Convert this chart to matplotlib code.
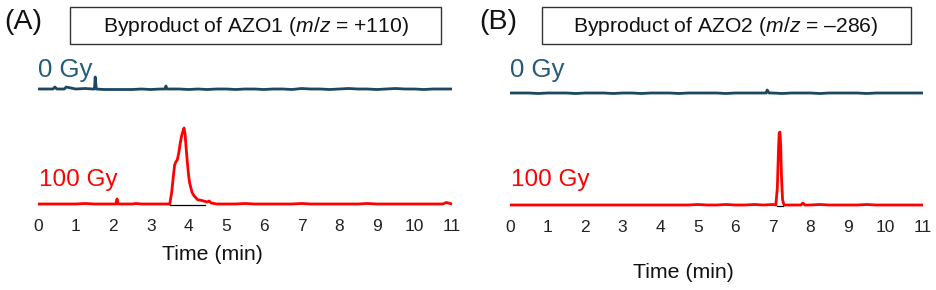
import matplotlib
matplotlib.use('Agg')
import matplotlib.pyplot as plt
from matplotlib.patches import Rectangle

plt.rcParams['font.family'] = ['Liberation Sans', 'DejaVu Sans']
plt.rcParams['mathtext.fontset'] = 'custom'
plt.rcParams['mathtext.it'] = 'Liberation Sans:italic'
plt.rcParams['mathtext.rm'] = 'Liberation Sans'

# ---- data (time in min, intensity in arbitrary units) ----
xticks = [0, 1, 2, 3, 4, 5, 6, 7, 8, 9, 10, 11]
titles = ['Byproduct of AZO1 ($m/z$ = +110)', 'Byproduct of AZO2 ($m/z$ = \u2013286)']
panel_tags = ['(A)', '(B)']
dose_labels = ['0 Gy', '100 Gy']

# (A) 0 Gy
a0_t = [0, 0.25, 0.4, 0.45, 0.5, 0.7, 0.75, 1.0, 1.25, 1.45, 1.5, 1.52, 1.55, 1.75, 2.0, 2.25,
        2.5, 2.75, 3.0, 3.25, 3.38, 3.4, 3.42, 3.75, 4.0, 4.25, 4.5, 4.75, 5.0, 5.25, 5.5,
        5.75, 6.0, 6.25, 6.5, 6.75, 7.0, 7.25, 7.5, 7.75, 8.0, 8.25, 8.5, 8.75, 9.0, 9.25,
        9.5, 9.75, 10.0, 10.25, 10.5, 10.75, 11.0]
a0_y = [1, 1, 1, 3, 1, 1, 3, 1, 1.5, 1, 1, 13, 1, 0.5, 0.5, 0.5,
        0.5, 1, 0.5, 1, 1, 4, 1, 1, 0.5, 1, 0.5, 1, 1, 0.5, 1,
        1, 0.5, 1, 1, 0.5, 1.5, 1, 1, 0.5, 1, 1.5, 1, 1, 0.5, 1,
        1.5, 1, 1, 0.5, 1, 1, 1]

# (A) 100 Gy
a1_t = [0, 0.25, 0.5, 0.75, 1.0, 1.25, 1.5, 1.75, 2.0, 2.07, 2.1, 2.13, 2.25, 2.5, 2.6,
        2.75, 3.0, 3.25, 3.5, 3.55, 3.6, 3.63, 3.66, 3.7, 3.74, 3.78, 3.82, 3.86, 3.88,
        3.91, 3.94, 3.97, 4.0, 4.03, 4.07, 4.1, 4.15, 4.2, 4.25, 4.3, 4.4, 4.5, 4.55,
        4.6, 4.75, 5.0, 5.25, 5.5, 5.75, 6.0, 6.25, 6.5, 6.75, 7.0, 7.25, 7.5, 7.75, 8.0,
        8.25, 8.5, 8.75, 9.0, 9.25, 9.5, 9.75, 10.0, 10.25, 10.5, 10.75, 10.85, 11.0]
a1_y = [1, 1, 1, 1, 1, 1.5, 1, 1, 1, 1, 6, 1, 1, 1, 1.5,
        1, 1, 1, 1, 12, 30, 40, 43, 45, 52, 62, 70, 75, 77,
        70, 55, 42, 30, 22, 16, 12, 9, 7, 5, 5, 4, 3, 4,
        2, 1, 1, 1, 1.5, 1, 1, 1, 1, 1, 1.5, 1, 1, 1, 1,
        1, 1, 1.5, 1, 1, 1, 1, 1, 1, 1, 1, 2.5, 1]
a_bounds = [3.5, 4.45]

# (B) 0 Gy
b0_t = [0, 0.25, 0.5, 0.75, 1.0, 1.25, 1.5, 1.75, 2.0, 2.25, 2.5, 2.75, 3.0, 3.25, 3.5,
        3.75, 4.0, 4.25, 4.5, 4.75, 5.0, 5.25, 5.5, 5.75, 6.0, 6.25, 6.5, 6.75, 6.82,
        6.85, 6.9, 7.0, 7.25, 7.5, 7.75, 8.0, 8.25, 8.5, 8.75, 9.0, 9.25, 9.5, 9.75,
        10.0, 10.25, 10.5, 10.75, 11.0]
b0_y = [1, 1, 1, 0.5, 1, 1, 1, 0.5, 1, 1, 1, 0.5, 1, 1, 0.5,
        1, 1, 1, 0.5, 1, 1, 1, 1, 0.5, 1, 1, 1, 1, 1,
        4, 1, 1, 0.5, 1, 1, 1, 0.5, 1, 1, 1, 1, 0.5, 1,
        1, 1, 1, 1, 1]

# (B) 100 Gy
b1_t = [0, 0.25, 0.5, 0.75, 1.0, 1.25, 1.5, 1.75, 2.0, 2.25, 2.5, 2.75, 3.0, 3.25, 3.5,
        3.75, 4.0, 4.25, 4.5, 4.75, 5.0, 5.25, 5.5, 5.75, 6.0, 6.25, 6.5, 6.75, 7.0, 7.08,
        7.12, 7.15, 7.17, 7.19, 7.21, 7.23, 7.26, 7.3, 7.4, 7.6, 7.75, 7.8, 7.85, 8.0,
        8.25, 8.5, 8.75, 9.0, 9.25, 9.5, 9.75, 10.0, 10.25, 10.5, 10.75, 11.0]
b1_y = [1, 1, 1, 1, 1, 1, 1, 1, 1, 1, 1, 1, 1, 1, 1,
        1, 1, 1, 1, 1, 1.5, 1, 1, 1.5, 1, 1, 1.5, 1, 1.5, 1,
        18, 55, 73, 74, 60, 30, 6, 1, 1, 1, 1, 3, 1, 1,
        1.5, 1, 1, 1, 1, 1.5, 1, 1, 1, 1, 1, 1]
b_bounds = [7.12, 7.27]

panels = [
    dict(t0=a0_t, y0=a0_y, t1=a1_t, y1=a1_y, bounds=a_bounds),
    dict(t0=b0_t, y0=b0_y, t1=b1_t, y1=b1_y, bounds=b_bounds),
]

# ---- figure ----
W, H = 937, 290
fig = plt.figure(figsize=(W / 100, H / 100), dpi=100)

def fx(px):
    return px / W

def fy(py):
    return 1 - py / H

dark = '#1b4763'
red = '#ff0000'

# pixel layout of each panel: x of t=0, x of t=11, y of red baseline, offset of 0 Gy trace
layout = [
    dict(x0=38, x1=452, base=205, off=115, tag_x=23, box=(70, 441), tx=256, lab_x=212, lab_y=255),
    dict(x0=510, x1=923, base=206, off=112, tag_x=498, box=(542, 911), tx=726, lab_x=683, lab_y=272),
]

for i, (p, L) in enumerate(zip(panels, layout)):
    top_px, bot_px = 55, L['base'] + 7
    ax = fig.add_axes([fx(L['x0']), fy(bot_px), fx(L['x1'] - L['x0']), (bot_px - top_px) / H])
    ax.set_xlim(0, 11)
    ax.set_ylim(-7, bot_px - top_px - 7)
    ax.plot(p['t1'], p['y1'], color=red, lw=2.0, solid_joinstyle='round')
    ax.plot(p['bounds'], [0, 0], color='black', lw=0.9, zorder=3)
    ax.plot(p['t0'], [v + L['off'] for v in p['y0']], color=dark, lw=2.0)
    for s in ax.spines.values():
        s.set_visible(False)
    ax.set_yticks([])
    ax.set_xticks(xticks)
    ax.tick_params(axis='x', length=0, pad=5, labelsize=12.5, labelcolor='#222222')

    fig.text(fx(L['lab_x']), fy(L['lab_y']), 'Time (min)', ha='center', va='center',
             fontsize=15.3, color='#111111')
    fig.text(fx(L['tag_x']), fy(22), panel_tags[i], ha='center', va='center',
             fontsize=20.5, color='#111111')
    bx0, bx1 = L['box']
    fig.add_artist(Rectangle((fx(bx0), fy(44)), fx(bx1 - bx0), 37 / H,
                             transform=fig.transFigure, fill=False,
                             edgecolor='#333333', lw=1.0))
    fig.text(fx(L['tx']), fy(26), titles[i], ha='center', va='center',
             fontsize=15.2, color='#111111')
    fig.text(fx(L['x0']), fy(77), dose_labels[0], ha='left', va='baseline',
             fontsize=18.5, color='#245a7a')
    fig.text(fx(L['x0'] + 1), fy(186), dose_labels[1], ha='left', va='baseline',
             fontsize=17.5, color=red)

fig.savefig('out.png', dpi=100)
